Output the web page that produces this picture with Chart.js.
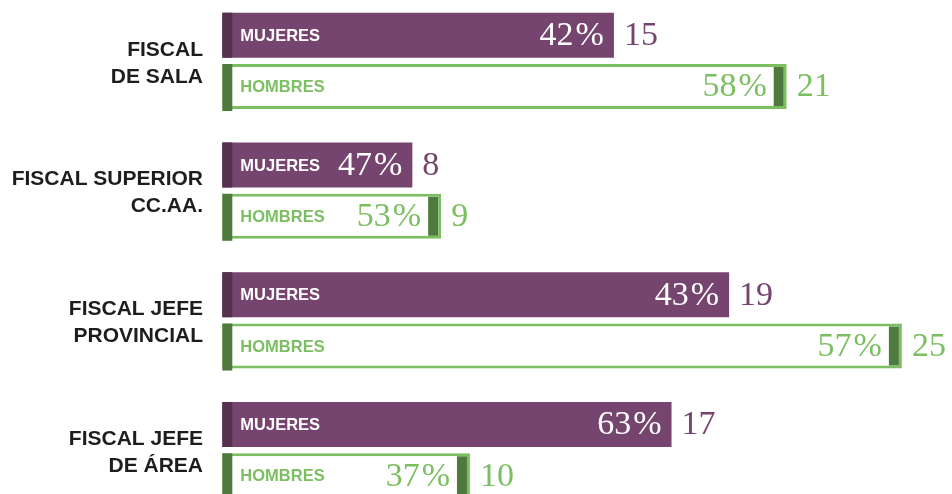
<!DOCTYPE html>
<html>
<head>
<meta charset="utf-8">
<script src="https://cdn.jsdelivr.net/npm/chart.js@4"></script>
<style>
html,body{margin:0;padding:0;width:952px;height:494px;overflow:hidden;background:#fff;}
#c{position:absolute;left:0;top:-4px;}
</style>
</head>
<body>
<canvas id="c" width="952" height="519"></canvas>
<script>
const categories = [['FISCAL','DE SALA'], ['FISCAL SUPERIOR','CC.AA.'], ['FISCAL JEFE','PROVINCIAL'], ['FISCAL JEFE','DE ÁREA']];
const seriesNames = ['MUJERES', 'HOMBRES'];
const mujeresCount = [15, 8, 19, 17];
const hombresCount = [21, 9, 25, 10];
const mujeresPct = [42, 47, 43, 63];
const hombresPct = [58, 53, 57, 37];

const BASE = 1.4;
const COL = {
  purple: '#76456F', purpleDark: '#55304F',
  green: '#7CBF62', greenDark: '#4E7A3D', text: '#1E1C1D'
};

const counts = [mujeresCount, hombresCount];
const pcts = [mujeresPct, hombresPct];

const decorPlugin = {
  id: 'decor',
  afterDatasetsDraw(chart) {
    const ctx = chart.ctx;
    ctx.save();
    const ys = chart.scales.y;
    ctx.fillStyle = COL.text;
    ctx.font = 'bold 21px "Liberation Sans", Arial, sans-serif';
    ctx.textAlign = 'right';
    ctx.textBaseline = 'middle';
    categories.forEach((lines, i) => {
      const cy = ys.getPixelForValue(i) + 2.5;
      const lh = 27;
      lines.forEach((t, k) => {
        ctx.fillText(t, 203, cy + (k - (lines.length - 1) / 2) * lh);
      });
    });
    [0, 1].forEach(d => {
      const meta = chart.getDatasetMeta(d);
      meta.data.forEach((bar, i) => {
        const p = bar.getProps(['x', 'y', 'base', 'height'], true);
        const left = p.base, right = p.x, top = p.y - p.height / 2;
        if (d === 0) {
          ctx.fillStyle = COL.purpleDark;
          ctx.fillRect(left, top, 10, p.height);
        } else {
          ctx.fillStyle = COL.greenDark;
          ctx.fillRect(left, top, 10, p.height + 2);
          ctx.fillRect(right - 13, top + 3, 10, p.height - 6);
        }
        ctx.font = 'bold 16.5px "Liberation Sans", Arial, sans-serif';
        ctx.textAlign = 'left';
        ctx.textBaseline = 'middle';
        ctx.fillStyle = d === 0 ? '#FFFFFF' : COL.green;
        ctx.fillText(seriesNames[d], left + 18, p.y + 1);
        ctx.font = '34px "Liberation Serif", "Times New Roman", serif';
        ctx.textAlign = 'right';
        ctx.fillStyle = d === 0 ? '#FFFFFF' : COL.green;
        const pr = d === 0 ? right - 10 : right - 20;
        ctx.fillText('%', pr, p.y + 1);
        const pw = ctx.measureText('%').width;
        ctx.fillText(String(pcts[d][i]), pr - pw - 2, p.y + 1);
        ctx.textAlign = 'left';
        ctx.fillStyle = d === 0 ? COL.purple : COL.green;
        ctx.fillText(String(counts[d][i]), right + 10, p.y + 1);
      });
    });
    ctx.restore();
  }
};

new Chart(document.getElementById('c'), {
  type: 'bar',
  data: {
    labels: categories.map(l => l.join(' ')),
    datasets: [
      {
        label: seriesNames[0],
        data: mujeresCount.map(v => [BASE, v]),
        backgroundColor: COL.purple,
        borderWidth: 0
      },
      {
        label: seriesNames[1],
        data: hombresCount.map(v => [BASE, v]),
        backgroundColor: '#FFFFFF',
        borderColor: COL.green,
        borderWidth: 3,
        borderSkipped: false
      }
    ]
  },
  options: {
    indexAxis: 'y',
    responsive: false,
    animation: false,
    devicePixelRatio: 1,
    layout: { padding: { left: 182, right: 0, top: 0, bottom: 0 } },
    datasets: { bar: { categoryPercentage: 0.791, barPercentage: 0.877, grouped: true } },
    scales: {
      x: { display: false, min: 0, max: 26.74 },
      y: { display: false, offset: true }
    },
    plugins: { legend: { display: false }, tooltip: { enabled: false } }
  },
  plugins: [decorPlugin]
});
</script>
</body>
</html>
